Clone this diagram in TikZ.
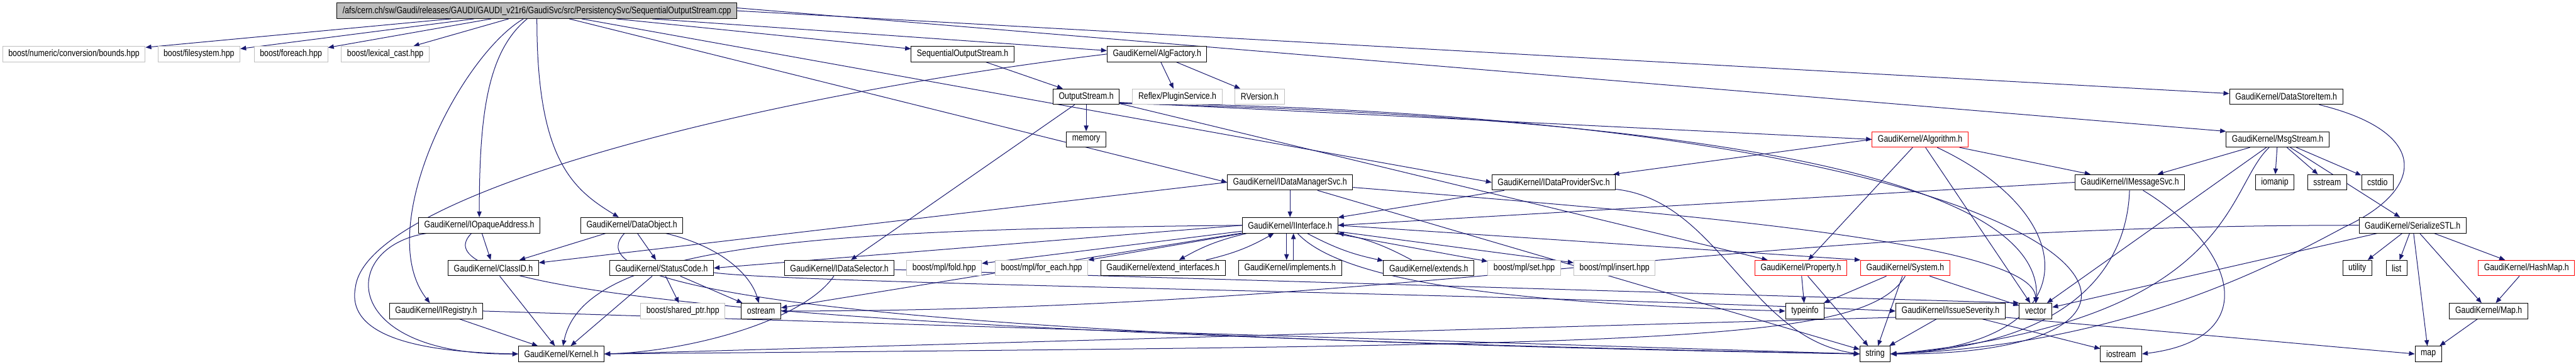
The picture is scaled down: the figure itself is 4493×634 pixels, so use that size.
\documentclass[tikz,border=0pt]{standalone}
\usepackage{fontspec}
\newfontfamily\dotfont{Liberation Sans}[FakeStretch=0.82]
\usepackage{tikz}
\usetikzlibrary{arrows.meta,backgrounds}
\definecolor{edgeblue}{RGB}{25,25,112}
\definecolor{extgray}{RGB}{191,191,191}
\tikzset{
  inc/.style={draw,line width=1.1pt,fill=white,minimum height=27pt,inner xsep=10pt,
    inner ysep=0pt,font=\dotfont\fontsize{16.5}{18}\selectfont},
  incext/.style={inc,draw=extgray},
  inctrunc/.style={inc,draw=red},
  incroot/.style={inc,fill=extgray},
  dep/.style={-{Triangle[length=10pt,width=8pt]},draw=edgeblue,line width=1.1pt},
}

\begin{document}
\begin{tikzpicture}[x=1pt,y=-1pt]
\useasboundingbox (0,0) rectangle (4493,634);
\node[incroot] (root) at (936.5,18.8) {/afs/cern.ch/sw/Gaudi/releases/GAUDI/GAUDI\_v21r6/GaudiSvc/src/PersistencySvc/SequentialOutputStream.cpp};
\node[incext] (bounds) at (129,94.2) {boost/numeric/conversion/bounds.hpp};
\node[incext] (filesys) at (347,94.2) {boost/filesystem.hpp};
\node[incext] (foreach) at (507.5,94.2) {boost/foreach.hpp};
\node[incext] (lexcast) at (672,94.2) {boost/lexical\_cast.hpp};
\node[inc] (seqh) at (1679,94.2) {SequentialOutputStream.h};
\node[inc] (algfac) at (2018,94.2) {GaudiKernel/AlgFactory.h};
\node[inc] (outh) at (1894.5,168.4) {OutputStream.h};
\node[incext] (reflex) at (2053.5,168.4) {Reflex/PluginService.h};
\node[incext] (rversion) at (2197,168.4) {RVersion.h};
\node[inc] (dsitem) at (3987.5,168.4) {GaudiKernel/DataStoreItem.h};
\node[inc] (memory) at (1894.5,242.8) {memory};
\node[inctrunc] (algo) at (3349,242.8) {GaudiKernel/Algorithm.h};
\node[inc] (msgstr) at (3972.6,242.8) {GaudiKernel/MsgStream.h};
\node[inc] (idms) at (2250,317.6) {GaudiKernel/IDataManagerSvc.h};
\node[inc] (idps) at (2710,317.6) {GaudiKernel/IDataProviderSvc.h};
\node[inc] (imsg) at (3714.7,317.6) {GaudiKernel/IMessageSvc.h};
\node[inc] (iomanip) at (3967.6,317.6) {iomanip};
\node[inc] (sstream) at (4059,317.6) {sstream};
\node[inc] (cstdio) at (4146.7,317.6) {cstdio};
\node[inc] (iopaque) at (836,392.4) {GaudiKernel/IOpaqueAddress.h};
\node[inc] (dobj) at (1102,392.4) {GaudiKernel/DataObject.h};
\node[inc] (iiface) at (2250,392.4) {GaudiKernel/IInterface.h};
\node[inc] (sstl) at (4208,392.4) {GaudiKernel/SerializeSTL.h};
\node[inc] (classid) at (860.5,466.9) {GaudiKernel/ClassID.h};
\node[inc] (statcode) at (1154,466.9) {GaudiKernel/StatusCode.h};
\node[inc] (idsel) at (1464,466.9) {GaudiKernel/IDataSelector.h};
\node[incext] (fold) at (1646.8,466.9) {boost/mpl/fold.hpp};
\node[incext] (mplforeach) at (1816.6,466.9) {boost/mpl/for\_each.hpp};
\node[inc] (extif) at (2028.5,466.9) {GaudiKernel/extend\_interfaces.h};
\node[inc] (impl) at (2250,466.9) {GaudiKernel/implements.h};
\node[inc] (extends) at (2492,466.9) {GaudiKernel/extends.h};
\node[incext] (mplset) at (2658.5,466.9) {boost/mpl/set.hpp};
\node[incext] (mplinsert) at (2816,466.9) {boost/mpl/insert.hpp};
\node[inctrunc] (prop) at (3141,466.9) {GaudiKernel/Property.h};
\node[inctrunc] (system) at (3323,466.9) {GaudiKernel/System.h};
\node[inc] (utility) at (4111.5,466.9) {utility};
\node[inc] (list) at (4180,466.9) {list};
\node[inctrunc] (hashmap) at (4406.6,466.9) {GaudiKernel/HashMap.h};
\node[inc] (iregistry) at (760.7,541.8) {GaudiKernel/IRegistry.h};
\node[incext] (sharedptr) at (1191,541.8) {boost/shared\_ptr.hpp};
\node[inc] (ostream) at (1327.5,541.8) {ostream};
\node[inc] (typeinfo) at (3148,541.8) {typeinfo};
\node[inc] (issue) at (3402,541.8) {GaudiKernel/IssueSeverity.h};
\node[inc] (vector) at (3550.5,541.8) {vector};
\node[inc] (gmap) at (4340.7,541.8) {GaudiKernel/Map.h};
\node[inc] (kernel) at (979,616.5) {GaudiKernel/Kernel.h};
\node[inc] (string) at (3270.5,616.5) {string};
\node[inc] (iostream) at (3699.6,616.5) {iostream};
\node[inc] (map) at (4235.4,616.5) {map};
\begin{scope}[on background layer]
\fill[white] (0,0) rectangle (4493,634);
\draw[dep] (root) -- (bounds); \draw[dep] (root) -- (filesys); \draw[dep] (root) -- (foreach);
\draw[dep] (root) -- (lexcast); \draw[dep] (root) -- (seqh); \draw[dep] (root) -- (algfac);
\draw[dep] (root) -- (idms.west); \draw[dep] (root) -- (idps.west);
\draw[dep] (root.east) -- (dsitem); \draw[dep] ([yshift=5pt]root.east) -- (msgstr.north west);
\draw[dep] (root) .. controls (800,100) and (650,400) .. (iregistry);
\draw[dep] (root) .. controls (850,90) and (836,200) .. (iopaque);
\draw[dep] (root) .. controls (936,280) and (1000,330) .. (dobj);
\draw[dep] (seqh) -- (outh);
\draw[dep] (algfac) -- (reflex); \draw[dep] (algfac) -- (rversion);
\draw[dep] (algfac.west) .. controls (1300,170) and (640,340) .. (620,500) .. controls (600,600) and (780,614) .. (kernel.west);
\draw[dep] (dsitem) .. controls (4240,230) and (4230,330) .. (4090,395) .. controls (3950,470) and (3700,600) .. (string.east);
\draw[dep] (outh) -- (memory); \draw[dep] (outh) -- (idsel);
\draw[dep] ([yshift=-10pt]outh.east) -- (algo.west); \draw[dep] ([yshift=-12pt]outh.east) -- (prop);
\draw[dep] ([yshift=-12pt]outh.east) .. controls (3300,210) and (3560,380) .. (vector);
\draw[dep] ([yshift=-11pt]outh.east) .. controls (3700,200) and (3950,620) .. (string.east);
\draw[dep] (algo.west) -- (idps); \draw[dep] (algo) -- (imsg); \draw[dep] (algo) -- (prop); \draw[dep] (algo) -- (vector);
\draw[dep] (algo) .. controls (3640,380) and (3640,600) .. (string.east);
\draw[dep] (msgstr) -- (imsg); \draw[dep] (msgstr) -- (iomanip); \draw[dep] (msgstr) -- (sstream);
\draw[dep] (msgstr) -- (cstdio); \draw[dep] (msgstr) -- (sstl); \draw[dep] (msgstr) -- (vector);
\draw[dep] (msgstr) .. controls (3880,330) and (3900,560) .. (string.east);
\draw[dep] (idms) -- (iiface); \draw[dep] (idms.west) -- (classid); \draw[dep] (idms) -- (string);
\draw[dep] (idms) .. controls (2900,370) and (3550,420) .. (vector);
\draw[dep] (idps) -- (iiface);
\draw[dep] (idps) .. controls (3000,350) and (3050,590) .. (string.west);
\draw[dep] (imsg.west) -- (iiface.east);
\draw[dep] (imsg) .. controls (3710,460) and (3620,600) .. (string.east);
\draw[dep] (imsg) .. controls (3900,430) and (3950,590) .. (iostream.east);
\draw[dep] (iopaque) -- (classid);
\draw[dep] (iopaque) .. controls (590,430) and (590,620) .. (kernel.west);
\draw[dep] (iopaque) .. controls (760,470) and (900,570) .. (string.west);
\draw[dep] (dobj) -- (classid); \draw[dep] (dobj) -- (statcode);
\draw[dep] (dobj) .. controls (1260,430) and (1310,480) .. (ostream);
\draw[dep] (dobj) .. controls (1040,460) and (1060,580) .. (string.west);
\draw[dep] (iiface.west) .. controls (1450,400) and (1020,420) .. (kernel);
\draw[dep] (iiface.west) -- (statcode.east); \draw[dep] (iiface) -- (ostream);
\draw[dep] (iiface.east) -- (system.north west);
\draw[dep] (iiface) .. controls (2350,500) and (2700,530) .. (typeinfo.west);
\draw[dep] (iiface) -- (fold); \draw[dep] (iiface) -- (mplforeach);
\draw[dep] (iiface) -- (mplset); \draw[dep] (iiface) -- (mplinsert);
\draw[dep] (iiface) to[bend right=8] (extif); \draw[dep] (extif) to[bend right=8] (iiface);
\draw[dep] ([xshift=-6pt]iiface.south) -- ([xshift=-6pt]impl.north);
\draw[dep] ([xshift=6pt]impl.north) -- ([xshift=6pt]iiface.south);
\draw[dep] (iiface) to[bend right=8] (extends); \draw[dep] (extends) to[bend right=8] (iiface);
\draw[dep] (sstl.west) .. controls (3040,392) and (2440,541) .. (ostream.east);
\draw[dep] (sstl) -- (vector); \draw[dep] (sstl) -- (utility); \draw[dep] (sstl) -- (list);
\draw[dep] (sstl) -- (map); \draw[dep] (sstl) -- (gmap); \draw[dep] (sstl) -- (hashmap);
\draw[dep] (classid) -- (kernel);
\draw[dep] (statcode) -- (kernel); \draw[dep] (statcode) -- (sharedptr); \draw[dep] (statcode) -- (ostream);
\draw[dep] ([yshift=-8pt]statcode.east) .. controls (1400,495) and (2600,510) .. (issue.west);
\draw[dep] (idsel) .. controls (1400,560) and (1200,612) .. (kernel.east);
\draw[dep] (idsel) -- (vector.north west);
\draw[dep] (prop) -- (typeinfo); \draw[dep] (prop) -- (string);
\draw[dep] (system) -- (typeinfo); \draw[dep] (system) -- (string); \draw[dep] (system) -- (vector);
\draw[dep] (system.south) .. controls (3250,600) and (2900,600) .. (kernel.east);
\draw[dep] (iregistry) -- (kernel); \draw[dep] (iregistry.east) -- (string.west);
\draw[dep] ([yshift=-11pt]issue.west) -- (kernel.east); \draw[dep] (issue) -- (string);
\draw[dep] (issue) -- (iostream); \draw[dep] ([yshift=-11pt]issue.east) -- (map.west);
\draw[dep] (hashmap) -- (gmap); \draw[dep] (gmap) -- (map);
\end{scope}
\end{tikzpicture}
\end{document}
